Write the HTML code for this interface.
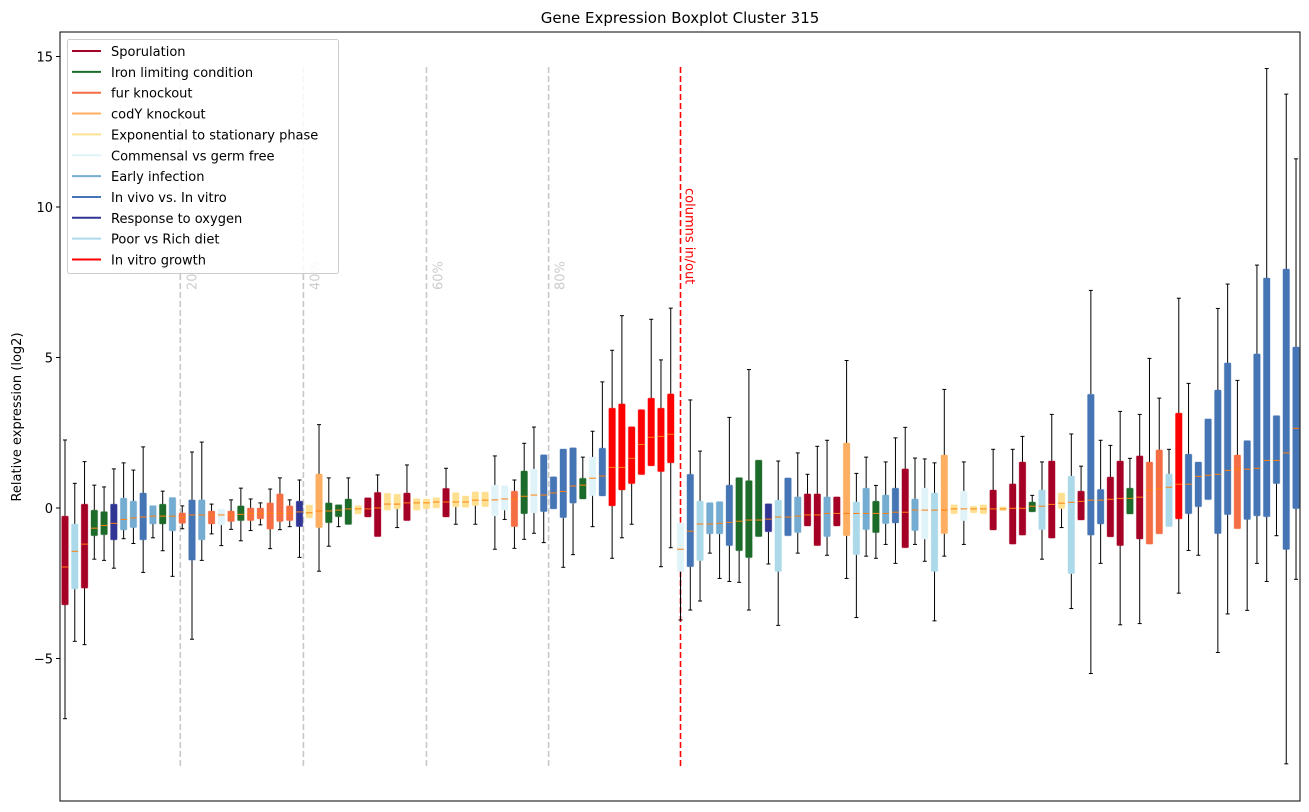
<!DOCTYPE html>
<html><head><meta charset="utf-8"><style>
body{margin:0;background:#fff;}
svg{display:block;font-family:"DejaVu Sans","Liberation Sans",sans-serif;}
</style></head><body>
<svg id="chart" width="1309" height="812" viewBox="0 0 1309 812" xmlns="http://www.w3.org/2000/svg">
<rect x="0" y="0" width="1309" height="812" fill="#fff"/>
<text x="680" y="23" text-anchor="middle" font-size="15" fill="#000">Gene Expression Boxplot Cluster 315</text>
<text transform="translate(21,417) rotate(-90)" text-anchor="middle" font-size="13" fill="#000">Relative expression (log2)</text>
<g id="grid"></g>
<g id="boxes"></g>
<g id="axes"></g>
<g id="legend"></g>
</svg>
<script>
const categories=["Sporulation","Iron limiting condition","fur knockout","codY knockout","Exponential to stationary phase","Commensal vs germ free","Early infection","In vivo vs. In vitro","Response to oxygen","Poor vs Rich diet","In vitro growth"];
const catColors=["#a50026","#1d6b2a","#f46d43","#fdae61","#fee090","#e0f3f8","#74add1","#4575b4","#313695","#abd9e9","#ff0000"];
const boxCat=[0,9,0,1,1,8,6,6,7,6,1,6,2,7,6,2,5,2,1,2,2,2,2,2,8,4,3,1,1,1,4,0,0,4,4,0,4,4,4,0,4,4,4,4,5,5,2,1,5,7,7,7,7,1,5,7,10,10,10,10,10,10,10,5,7,9,6,6,7,1,1,1,8,9,7,6,0,0,6,0,3,9,6,1,6,7,0,6,5,9,3,4,5,4,4,0,4,0,0,1,9,0,4,9,0,7,7,0,0,1,0,2,2,9,10,7,7,7,7,7,2,7,7,7,7,7,7];
const whiskHi=[2.26,0.82,1.54,0.76,0.7,1.3,1.5,1.26,2.03,0.08,0.56,0.35,0.07,1.86,2.19,0.13,-0.04,0.27,0.66,0.3,0.17,0.63,1.0,0.27,0.93,0.1,2.77,1.0,0.11,1.0,0.08,0.34,1.1,0.49,0.46,1.43,0.31,0.3,0.34,1.32,0.51,0.4,0.54,0.53,1.73,0.74,0.93,2.15,2.69,1.77,1.04,1.96,2.0,1.69,2.55,4.19,5.24,6.39,2.7,3.27,6.27,4.92,6.64,-0.49,3.59,1.89,0.18,0.21,3.01,1.01,4.6,1.59,0.14,1.56,1.0,1.83,1.12,2.05,2.25,0.37,4.9,1.15,1.69,0.75,1.53,2.33,2.68,1.66,1.63,1.5,3.94,0.11,1.53,0.06,0.11,1.95,0.04,1.95,2.38,0.42,1.53,3.11,0.5,2.46,1.39,7.23,2.25,2.08,3.21,1.65,3.11,4.97,3.65,1.95,6.97,4.14,1.53,2.96,6.63,7.44,4.24,2.24,8.07,14.6,3.07,13.75,11.6];
const q3=[-0.27,-0.53,0.13,-0.07,-0.12,0.13,0.33,0.23,0.5,0.08,0.13,0.35,-0.16,0.27,0.27,-0.1,-0.04,-0.1,0.07,0,0,0.17,0.47,0.07,0.23,0.1,1.13,0.17,0.11,0.3,0.08,0.34,0.52,0.49,0.46,0.5,0.31,0.3,0.34,0.65,0.51,0.4,0.54,0.53,0.76,0.74,0.56,1.23,1.29,1.77,1.04,1.96,2.0,0.99,1.69,1.99,3.32,3.46,2.7,3.27,3.65,3.32,3.79,-0.49,1.12,0.23,0.18,0.21,0.76,1.01,0.91,1.59,0.14,0.26,1.0,0.37,0.47,0.47,0.37,0.37,2.16,0.2,0.66,0.23,0.43,0.66,1.3,0.3,0.66,0.5,1.76,0.11,0.56,0.06,0.11,0.6,0.04,0.8,1.53,0.2,0.6,1.56,0.5,1.06,0.56,3.78,0.62,1.03,1.56,0.66,1.73,1.53,1.93,1.13,3.15,1.79,1.53,2.96,3.92,4.82,1.76,2.24,5.12,7.64,3.07,7.94,5.35];
const medians=[-1.96,-1.44,-1.2,-0.67,-0.58,-0.51,-0.38,-0.33,-0.3,-0.27,-0.27,-0.27,-0.32,-0.23,-0.23,-0.23,-0.23,-0.23,-0.21,-0.18,-0.18,-0.18,-0.18,-0.18,-0.13,-0.16,-0.1,-0.1,-0.07,-0.03,-0.03,-0.03,0,0.13,0.13,0.17,0.17,0.17,0.2,0.2,0.2,0.2,0.26,0.26,0.27,0.3,0.3,0.39,0.43,0.43,0.5,0.55,0.73,0.76,0.99,1.06,1.35,1.35,1.65,2.11,2.35,2.38,2.45,-1.37,-0.77,-0.53,-0.53,-0.51,-0.48,-0.44,-0.4,-0.4,-0.37,-0.3,-0.3,-0.27,-0.23,-0.23,-0.18,-0.18,-0.18,-0.18,-0.18,-0.18,-0.18,-0.14,-0.14,-0.07,-0.07,-0.07,-0.07,-0.03,-0.03,-0.03,-0.03,-0.03,-0.03,-0.01,-0.01,0.06,0.06,0.12,0.16,0.19,0.22,0.26,0.26,0.29,0.32,0.32,0.36,0.59,0.65,0.69,0.79,0.79,1.05,1.09,1.12,1.25,1.29,1.29,1.32,1.58,1.58,1.83,2.65];
const q1=[-3.22,-2.69,-2.66,-0.92,-0.89,-1.06,-0.73,-0.65,-1.06,-0.53,-0.53,-0.76,-0.51,-1.73,-1.06,-0.53,-0.56,-0.45,-0.42,-0.42,-0.36,-0.7,-0.45,-0.42,-0.62,-0.33,-0.65,-0.49,-0.29,-0.55,-0.2,-0.3,-0.95,-0.07,-0.03,-0.42,-0.07,-0.03,0,-0.3,0.04,0.02,0.08,0.04,-0.26,-0.07,-0.62,-0.19,-0.16,-0.12,-0.03,-0.32,0.16,0.3,0.41,0.4,0.07,0.6,0.81,1.11,1.4,1.21,1.5,-2.11,-1.95,-1.75,-0.86,-0.86,-1.25,-1.42,-1.65,-0.95,-0.79,-2.11,-0.92,-0.82,-0.6,-1.25,-0.95,-0.6,-0.92,-1.55,-0.72,-0.82,-0.52,-0.5,-1.32,-0.75,-1.03,-2.11,-0.85,-0.19,-0.42,-0.16,-0.19,-0.73,-0.09,-1.2,-0.9,-0.13,-0.72,-1.0,-0.02,-2.18,-0.4,-0.9,-0.53,-0.96,-1.25,-0.2,-1.03,-1.2,-0.86,-0.62,-0.36,-0.19,0.04,0.28,-0.85,-0.22,-0.69,-0.38,-0.26,-0.29,0.81,-1.38,-0.02];
const whiskLo=[-7.0,-4.43,-4.54,-1.7,-1.74,-2.0,-1.02,-1.18,-2.14,-0.99,-1.42,-2.27,-0.69,-4.36,-1.74,-0.86,-1.25,-0.71,-1.09,-0.75,-0.56,-1.35,-0.72,-0.62,-1.64,-0.33,-2.1,-1.27,-0.62,-0.55,-0.2,-0.3,-0.95,-0.07,-0.65,-0.42,-0.07,-0.03,0,-0.3,-0.54,0.02,-0.54,0.04,-1.37,-0.38,-1.34,-1.04,-0.84,-1.15,-0.03,-1.97,-1.55,0.3,-0.62,0.4,-1.67,-0.99,-0.54,1.11,1.4,-1.95,-1.32,-3.72,-3.39,-3.09,-1.5,-2.34,-2.44,-2.47,-3.39,-0.95,-1.86,-3.9,-0.92,-1.5,-0.6,-1.25,-1.57,-0.6,-2.34,-3.64,-1.6,-1.67,-1.21,-1.84,-1.32,-1.21,-1.77,-3.75,-1.6,-0.19,-1.21,-0.16,-0.19,-0.73,-0.09,-1.2,-0.9,-0.13,-1.7,-1.0,-0.65,-3.34,-0.4,-5.5,-1.84,-0.96,-3.88,-0.2,-3.84,-1.2,-0.86,-0.62,-2.83,-1.41,-1.57,0.28,-4.8,-3.52,-0.69,-3.4,-1.84,-2.44,-0.92,-8.5,-2.37];
const yTicks=[-5,0,5,10,15];
const refLabels=["20%","40%","60%","80%"];
const refPositions=[11.8,24.4,37.0,49.5];
const cutIndex=63;

const NS="http://www.w3.org/2000/svg";
const plotL=60,plotR=1300,plotT=32,plotB=801;
function yS(v){return 508-v*30.1;}
function xS(i){return 65+i*9.77;}
function mk(tag,attrs,parent){const e=document.createElementNS(NS,tag);for(const k in attrs)e.setAttribute(k,attrs[k]);parent.appendChild(e);return e;}
const grid=document.getElementById('grid'),boxes=document.getElementById('boxes'),axes=document.getElementById('axes'),legend=document.getElementById('legend');

refPositions.forEach((p,k)=>{
  const x=xS(p);
  const l=mk('line',{x1:x,x2:x,y1:67,y2:767,stroke:'#c8c8c8','stroke-width':1.6,'stroke-dasharray':'6,3'},grid);
  
  
  const t=mk('text',{transform:`translate(${x+16},290) rotate(-90)`,'font-size':13,fill:'#cccccc'},grid);
  t.textContent=refLabels[k];
  
  
});
const cx=xS(cutIndex);
const cl=mk('line',{x1:cx,x2:cx,y1:67,y2:767,stroke:'#ff0000','stroke-width':1.6,'stroke-dasharray':'6,3'},grid);


const ct=mk('text',{transform:`translate(${cx+5},188) rotate(90)`,'font-size':13,fill:'#ff0000'},grid);
ct.textContent='columns in/out';



for(let i=0;i<medians.length;i++){
  const x=xS(i),c=catColors[boxCat[i]];
  const g=mk('g',{},boxes);
  
  
  mk('line',{x1:x,x2:x,y1:yS(whiskHi[i]),y2:yS(q3[i]),stroke:'#000','stroke-width':1},g);
  mk('line',{x1:x,x2:x,y1:yS(q1[i]),y2:yS(whiskLo[i]),stroke:'#000','stroke-width':1},g);
  if(whiskHi[i]>q3[i]) mk('line',{x1:x-2,x2:x+2,y1:yS(whiskHi[i]),y2:yS(whiskHi[i]),stroke:'#000','stroke-width':1},g);
  if(whiskLo[i]<q1[i]) mk('line',{x1:x-2,x2:x+2,y1:yS(whiskLo[i]),y2:yS(whiskLo[i]),stroke:'#000','stroke-width':1},g);
  const y3=yS(q3[i]),y1=yS(q1[i]);
  mk('rect',{x:x-3.3,y:y3,width:6.6,height:Math.max(y1-y3,1.5),fill:c,stroke:c,'stroke-opacity':0.35,'stroke-width':1,rx:1},g);
  mk('line',{x1:x-3.3,x2:x+3.3,y1:yS(medians[i]),y2:yS(medians[i]),stroke:'#ff7f0e','stroke-width':1},g);
}

mk('rect',{x:plotL,y:plotT,width:plotR-plotL,height:plotB-plotT,fill:'none',stroke:'#000','stroke-width':1},axes);
yTicks.forEach(v=>{
  const y=yS(v);
  mk('line',{x1:plotL-4,x2:plotL,y1:y,y2:y,stroke:'#000','stroke-width':1},axes);
  const t=mk('text',{x:plotL-7,y:y+5,'text-anchor':'end','font-size':13,fill:'#000'},axes);
  t.textContent=v<0?'\u2212'+Math.abs(v):String(v);
  
  
});

const lb=mk('rect',{x:67.5,y:39.5,width:271,height:234,fill:'#fff','fill-opacity':0.85,stroke:'#ccc','stroke-width':1,rx:2},legend);


categories.forEach((name,k)=>{
  const y=51+k*20.85;
  const g=mk('g',{},legend);
  
  
  mk('line',{x1:72,x2:101,y1:y,y2:y,stroke:catColors[k],'stroke-width':2},g);
  const t=mk('text',{x:111,y:y+5,'font-size':13,fill:'#000'},g);
  t.textContent=name;
});
</script>
</body></html>
